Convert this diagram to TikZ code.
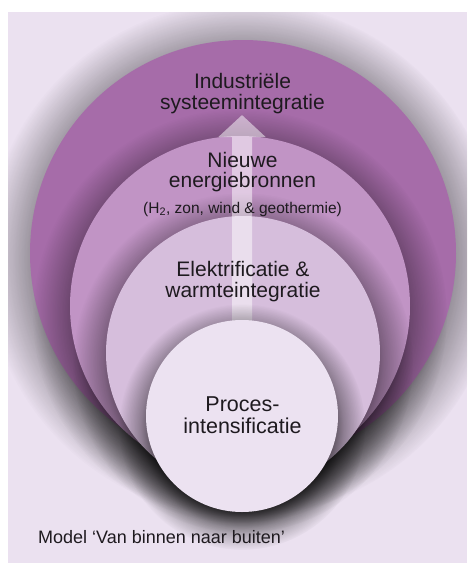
\documentclass[tikz,border=0pt]{standalone}
\usepackage{fontspec}
\setmainfont{Liberation Sans}
\usetikzlibrary{arrows.meta,fadings}
\definecolor{paper}{HTML}{EBE1F0}
\definecolor{ring4}{HTML}{A66CA9}
\definecolor{ring3}{HTML}{C194C5}
\definecolor{ring2}{HTML}{D6BEDC}
\definecolor{ring1}{HTML}{ECE2F1}
\definecolor{ink}{HTML}{1E1A1F}
\pgfdeclareradialshading{shadowmask}{\pgfpoint{0bp}{0bp}}{color(0bp)=(white); color(16bp)=(white); color(20.5bp)=(gray!80!black); color(25bp)=(black); color(50bp)=(black)}
\pgfdeclarefading{shadowfade}{\pgfuseshading{shadowmask}}
\begin{document}
\begin{tikzpicture}[x=1pt,y=-1pt,
	shadow/.style={black,opacity=.85,path fading=shadowfade},
	lbl/.style={align=center,inner sep=0pt,text=ink}]
		\useasboundingbox (0,0) rectangle (467,563);
		\fill[white] (0,0) rectangle (467,563);
		\begin{scope}
		\clip (8,12) rectangle (467,563);
		\fill[paper] (8,12) rectangle (467,563);
		\fill[shadow] (243,259) circle (258);
		\fill[ring4] (243,253) circle (213);
		\fill[shadow] (240,316) circle (207);
		\fill[ring3] (240,306) circle (170);
		\fill[shadow] (243,363) circle (170);
		\fill[ring2] (243,353) circle (137);
		\coordinate (foot) at (242,340);
		\coordinate (tip) at (242,115);
		\begin{scope}[transparency group,opacity=.5]
		\draw[white,line width=20pt,-{Triangle[width=46pt,length=22pt]}](foot)--(tip);
		\end{scope}
		\fill[shadow] (242,427) circle (123);
		\fill[ring1] (242,416) circle (96);
		\end{scope}
		\node[lbl,font=\fontsize{21}{21}\selectfont](industrie) at (242.5,93.5){Industriële\\systeemintegratie};
		\node[lbl,font=\fontsize{21}{20}\selectfont](nieuwe) at (242.5,172.5){Nieuwe\\energiebronnen};
		\node[lbl,font=\fontsize{15.5}{15.5}\selectfont](bronnen) at (242.5,209){(H\textsubscript{2}, zon, wind \& geothermie)};
		\node[lbl,font=\fontsize{21}{21}\selectfont](elektro) at (243,282){Elektrificatie \&\\warmteintegratie};
		\node[lbl,font=\fontsize{21.5}{22}\selectfont](proces) at (242.5,415.5){Proces-\\intensificatie};
		\node[lbl,font=\fontsize{18}{18}\selectfont,anchor=west](model) at (38,537){Model ‘Van binnen naar buiten’};
	\end{tikzpicture}
\end{document}
